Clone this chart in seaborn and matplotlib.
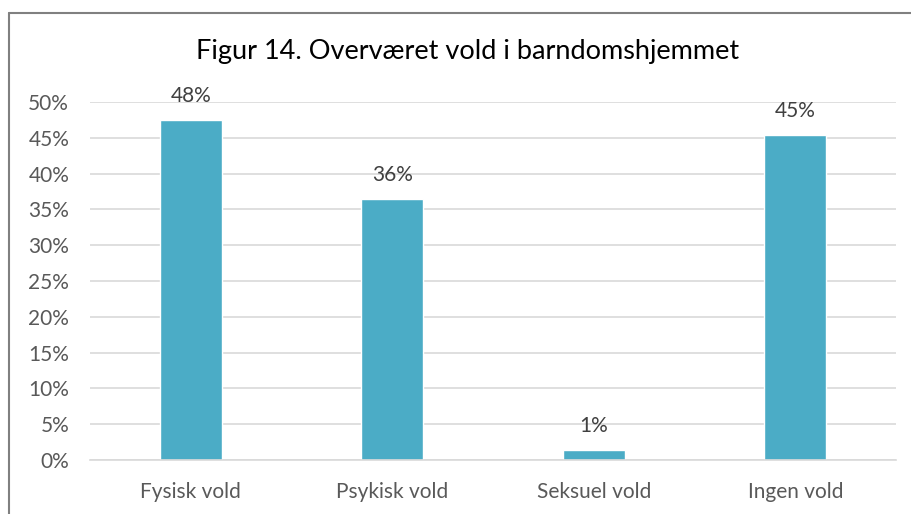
import seaborn as sns
import matplotlib.pyplot as plt
import pandas as pd
from matplotlib.lines import Line2D
from matplotlib.ticker import PercentFormatter

categories = ["Fysisk vold", "Psykisk vold", "Seksuel vold", "Ingen vold"]
values = [47.5, 36.4, 1.4, 45.4]
labels = ["48%", "36%", "1%", "45%"]
title = "Figur 14. Overværet vold i barndomshjemmet"

df = pd.DataFrame({"Kategori": categories, "Andel": values})

sns.set_theme(style="white")
plt.rcParams['font.family'] = ['Lato', 'DejaVu Sans']

fig = plt.figure(figsize=(9.11, 5.14), dpi=100)
ax = fig.add_axes([90 / 911, 1 - 460 / 514, 806 / 911, 358 / 514])

sns.barplot(data=df, x="Kategori", y="Andel", color="#4BACC6", width=0.31,
            saturation=1, ax=ax)

ax.set_ylim(0, 50)
ax.set_yticks(range(0, 51, 5))
ax.yaxis.set_major_formatter(PercentFormatter(decimals=0))
ax.set_xlim(-0.5, 3.5)
ax.grid(axis="y", color="#D9D9D9", linewidth=1.2)
ax.set_axisbelow(True)
for s in ax.spines.values():
    s.set_visible(False)
ax.spines["bottom"].set_visible(True)
ax.spines["bottom"].set_color("#D9D9D9")
ax.spines["bottom"].set_linewidth(1.2)
ax.set_xlabel("")
ax.set_ylabel("")
ax.tick_params(axis="both", length=0, labelsize=15, colors="#595959")
ax.tick_params(axis="y", pad=15)
ax.tick_params(axis="x", pad=16)

for i, (v, lab) in enumerate(zip(values, labels)):
    ax.text(i, v + 2.0, lab, ha="center", va="bottom", fontsize=15, color="#404040")

fig.text(468 / 911, 1 - 52 / 514, title, ha="center", va="center", fontsize=19.5, color="black")

# outer chart border (top and left visible)
fig.add_artist(Line2D([9 / 911, 9 / 911], [0, 1 - 13 / 514], transform=fig.transFigure,
                      color="#808080", linewidth=1.5))
fig.add_artist(Line2D([9 / 911, 1], [1 - 13 / 514, 1 - 13 / 514], transform=fig.transFigure,
                      color="#808080", linewidth=1.5))

fig.savefig("out.png", dpi=100)
